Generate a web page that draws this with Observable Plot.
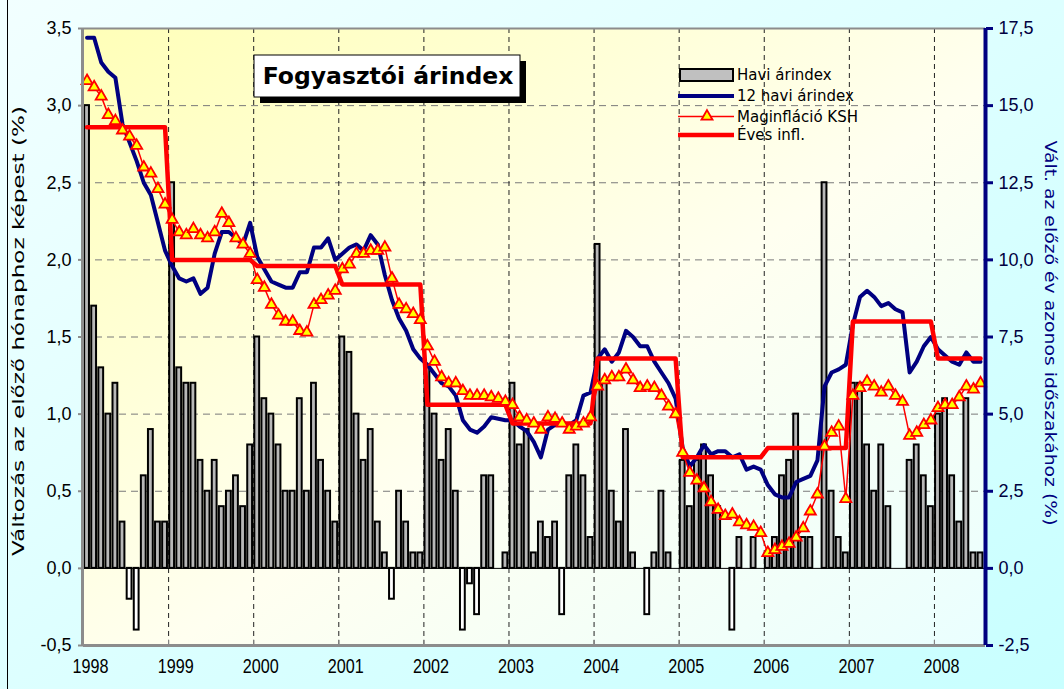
<!DOCTYPE html>
<html><head><meta charset="utf-8">
<script src="https://cdn.jsdelivr.net/npm/d3@7"></script>
<script src="https://cdn.jsdelivr.net/npm/@observablehq/plot@0.6"></script>
<style>
html,body{margin:0;padding:0;background:#d6ffff;}
#chart{width:1064px;height:689px;overflow:hidden;}
</style></head><body><div id="chart"></div>
<script>
// ---- data (monthly, Jan 1998 - Jul 2008) ----
const years = [1998,1999,2000,2001,2002,2003,2004,2005,2006,2007,2008];
// Havi árindex: change vs previous month (%), left axis
const haviArindex = [
  3.0,1.7,1.3,1.0,1.2,0.3,-0.2,-0.4,0.6,0.9,0.3,0.3,
  2.5,1.3,1.2,1.2,0.7,0.5,0.7,0.4,0.5,0.6,0.4,0.8,
  1.5,1.1,1.0,0.8,0.5,0.5,1.1,0.5,1.2,0.7,0.5,0.3,
  1.5,1.4,1.0,0.7,0.9,0.3,0.1,-0.2,0.5,0.3,0.1,0.1,
  1.3,1.0,0.7,0.9,0.5,-0.4,-0.1,-0.3,0.6,0.6,0.0,0.1,
  1.2,0.8,0.9,0.1,0.3,0.2,0.3,-0.3,0.6,0.8,0.6,0.2,
  2.1,1.2,0.5,0.3,0.9,0.1,0.0,-0.3,0.1,0.5,0.1,0.0,
  0.7,0.4,0.7,0.8,0.6,0.4,0.0,-0.4,0.2,0.0,0.2,0.0,
  0.1,0.2,0.6,0.7,1.0,0.2,0.2,0.0,2.5,0.5,0.2,0.1,
  1.2,1.2,0.8,0.5,0.8,0.4,0.0,0.0,0.7,0.8,0.6,0.4,
  1.0,1.1,0.6,0.3,1.1,0.1,0.1
];
// 12 havi árindex (%), right axis
const havi12Arindex = [
  17.2,17.2,16.4,16.1,15.9,14.4,13.8,13.2,12.5,12.1,11.2,10.3,
  9.8,9.4,9.3,9.4,8.9,9.1,10.2,10.9,10.9,10.7,10.5,11.2,
  10.1,9.7,9.3,9.2,9.1,9.1,9.6,9.6,10.4,10.4,10.7,10.0,
  10.2,10.4,10.5,10.3,10.8,10.5,9.5,8.7,8.1,7.7,7.1,6.8,
  6.6,6.3,6.0,5.9,5.6,4.8,4.5,4.4,4.6,4.9,4.85,4.8,
  4.8,4.6,4.45,4.1,3.6,4.5,4.65,4.65,4.65,4.8,5.6,5.7,
  6.8,7.1,6.7,7.0,7.7,7.5,7.2,7.2,6.7,6.35,6.0,5.5,
  3.9,3.3,3.6,4.0,3.7,3.8,3.8,3.6,3.7,3.2,3.3,3.2,
  2.7,2.4,2.3,2.3,2.8,2.9,3.0,3.5,5.9,6.35,6.45,6.6,
  7.9,8.8,9.0,8.8,8.5,8.6,8.4,8.3,6.35,6.7,7.2,7.5,
  7.1,6.9,6.7,6.6,7.0,6.7,6.7
];
// Maginfláció KSH (%), right axis
const maginflacio = [
  15.8,15.6,15.3,14.7,14.5,14.2,14.0,13.7,13.0,12.8,12.3,11.8,
  11.3,10.9,10.8,11.0,10.8,10.7,10.9,11.5,11.2,10.7,10.5,10.2,
  9.35,9.1,8.55,8.2,8.0,8.0,7.7,7.65,8.55,8.7,8.85,9.0,
  9.7,9.85,10.2,10.2,10.3,10.3,10.4,9.4,8.55,8.4,8.25,8.05,
  7.2,6.7,6.2,6.0,6.0,5.75,5.6,5.6,5.6,5.55,5.5,5.4,
  5.3,4.9,4.8,4.7,4.5,4.9,4.85,4.7,4.5,4.6,4.7,4.9,
  5.9,6.1,6.2,6.2,6.45,6.1,5.85,5.9,5.85,5.6,5.25,5.0,
  3.75,3.1,2.85,2.6,2.15,1.9,1.7,1.75,1.5,1.4,1.35,1.15,
  0.5,0.6,0.7,0.8,1.0,1.3,1.85,2.4,3.95,4.4,4.6,2.25,
  5.6,5.85,6.05,5.9,5.7,5.9,5.6,5.4,4.3,4.4,4.65,4.8,
  5.2,5.3,5.3,5.55,5.9,5.8,6.0
];
// Éves infláció (%), one value per year, right axis
const evesInfl = [14.3,10.0,9.8,9.2,5.3,4.7,6.8,3.6,3.9,8.0,6.8];
// axis tick labels
const leftTicks = [-0.5,0,0.5,1.0,1.5,2.0,2.5,3.0,3.5];
const rightTicks = [-2.5,0,2.5,5.0,7.5,10.0,12.5,15.0,17.5];
const RATIO = 5; // right axis = left axis * 5
const leftTitle = "Változás az előző hónaphoz képest (%)";
const rightTitle = "Vált. az előző év azonos időszakához (%)";

// ---- table built from the arrays ----
const months = haviArindex.map((v, i) => ({
  i, havi: v, yoy: havi12Arindex[i], core: maginflacio[i], eves: evesInfl[Math.floor(i / 12)]
}));
const yearStarts = years.map((y, k) => k * 12);
const comma = v => v.toFixed(1).replace(".", ",");

const W = 1064, H = 689;
const tickFont = "'Liberation Sans', Arial, sans-serif";
const chart = Plot.plot({
  width: W, height: H,
  marginLeft: 83, marginRight: 79, marginTop: 28, marginBottom: 44,
  x: {type: "linear", domain: [0, 127.2], axis: null},
  y: {type: "linear", domain: [-0.5, 3.5], axis: null},
  style: {background: "transparent", fontFamily: "'DejaVu Sans', Verdana, sans-serif", fontSize: "14px", color: "#000", overflow: "visible"},
  marks: [
    // grid
    Plot.ruleY(leftTicks.filter(v => v > -0.5 && v < 3.5 && v !== 0), {stroke: "#7a7a7a", strokeDasharray: "7,5", strokeWidth: 1}),
    Plot.ruleX(yearStarts.slice(1), {stroke: "#222", strokeDasharray: "5,4", strokeWidth: 1}),
    // bars
    Plot.rectY(months.filter(d => d.havi !== 0), {
      x1: d => d.i + 0.16, x2: d => d.i + 0.84, y1: 0, y2: "havi",
      fill: d => d.havi < 0 ? "#ffffff" : "#b8b8b8", stroke: "#000", strokeWidth: 2
    }),
    Plot.ruleY([0], {stroke: "#000", strokeWidth: 1}),
    // lines
    Plot.line(months, {x: d => d.i + 0.5, y: d => d.yoy / RATIO, stroke: "#000080", strokeWidth: 4, strokeLinejoin: "round"}),
    Plot.line(months, {x: d => d.i + 0.5, y: d => d.eves / RATIO, stroke: "#ff0000", strokeWidth: 4.5}),
    Plot.line(months, {x: d => d.i + 0.5, y: d => d.core / RATIO, stroke: "#ff0000", strokeWidth: 1.5}),
    Plot.dot(months, {x: d => d.i + 0.5, y: d => d.core / RATIO, symbol: "triangle", r: 4.1, fill: "#ffff00", stroke: "#ff0000", strokeWidth: 1.8}),
    // frame lines
    Plot.ruleY([3.5], {stroke: "#8c8c8c", strokeWidth: 2}),
    Plot.ruleY([-0.5], {stroke: "#8c8c8c", strokeWidth: 3}),
    Plot.ruleX([0], {stroke: "#8c8c8c", strokeWidth: 3, dx: -1}),
    Plot.ruleX([127.2], {stroke: "#000080", strokeWidth: 4}),
    // bottom small ticks at year boundaries
    Plot.ruleX(yearStarts.slice(1), {y1: -0.5, y2: -0.465, stroke: "#8c8c8c", strokeWidth: 1}),
    // left axis
    Plot.axisY({anchor: "left", ticks: leftTicks, tickFormat: comma, tickSize: 5, tickPadding: 7,
      stroke: "#8c8c8c", strokeWidth: 2, fill: "#000", fontSize: 18, fontFamily: tickFont, label: null}),
    // right axis
    Plot.axisY({anchor: "right", ticks: rightTicks.map(v => v / RATIO), tickFormat: v => comma(v * RATIO), tickSize: 7, tickPadding: 6,
      stroke: "#000080", strokeWidth: 3, fill: "#000040", fontSize: 18, fontFamily: tickFont, label: null}),
    // year labels
    Plot.text(years, {x: d => (d - 1998) * 12 + 1.0, frameAnchor: "bottom", dy: 27, text: d => String(d),
      fontSize: 20, fontFamily: tickFont, fill: "#000"}),
    // axis titles
    Plot.text([leftTitle], {frameAnchor: "left", dx: -64, dy: -6, rotate: -90, textAnchor: "middle", fontSize: 15, fill: "#000"}),
    Plot.text([rightTitle], {frameAnchor: "right", dx: 64, dy: -4, rotate: 90, textAnchor: "middle", fontSize: 15, fill: "#000080"})
  ]
});

// ---- text stretching to match the (vertically stretched) original ----
const svg = d3.select(chart);
svg.selectAll("text").filter(function () { return /^\d{4}$/.test(this.textContent); })
  .attr("textLength", 36).attr("lengthAdjust", "spacingAndGlyphs");
svg.selectAll("text").filter(function () { return this.textContent === leftTitle; })
  .attr("textLength", 450).attr("lengthAdjust", "spacingAndGlyphs");
svg.selectAll("text").filter(function () { return this.textContent === rightTitle; })
  .attr("textLength", 385).attr("lengthAdjust", "spacingAndGlyphs");

// ---- backgrounds, title box, legend ----
const defs = svg.insert("defs", ":first-child");
const g1 = defs.append("linearGradient").attr("id", "outerbg").attr("x1", 0).attr("y1", 0).attr("x2", 1).attr("y2", 1);
g1.append("stop").attr("offset", 0).attr("stop-color", "#f2ffff");
g1.append("stop").attr("offset", 1).attr("stop-color", "#c8ffff");
const g2 = defs.append("linearGradient").attr("id", "plotbg").attr("x1", 0).attr("y1", 0).attr("x2", 1).attr("y2", 1);
g2.append("stop").attr("offset", 0).attr("stop-color", "#ffffb8");
g2.append("stop").attr("offset", 0.55).attr("stop-color", "#fffff0");
g2.append("stop").attr("offset", 1).attr("stop-color", "#eaffff");
const bg = svg.insert("g", "defs + *");
bg.append("rect").attr("x", 0).attr("y", 0).attr("width", W).attr("height", H).attr("fill", "url(#outerbg)");
bg.append("line").attr("x1", 7.5).attr("x2", 7.5).attr("y1", 0).attr("y2", H).attr("stroke", "#000").attr("stroke-width", 1);
bg.append("rect").attr("x", 83).attr("y", 28).attr("width", 902).attr("height", 617).attr("fill", "url(#plotbg)");

// title box
const tb = svg.append("g");
tb.append("rect").attr("x", 260).attr("y", 61).attr("width", 266).attr("height", 42).attr("fill", "#000");
tb.append("rect").attr("x", 254).attr("y", 55).attr("width", 266).attr("height", 42).attr("fill", "#fff").attr("stroke", "#000").attr("stroke-width", 1);
tb.append("text").attr("x", 388).attr("y", 76).attr("text-anchor", "middle").attr("dominant-baseline", "central")
  .attr("font-family", "'DejaVu Sans', Verdana, sans-serif").attr("font-weight", "bold").attr("font-size", 23.5).attr("fill", "#000")
  .text("Fogyasztói árindex");

// legend
const lg = svg.append("g").attr("font-family", "'DejaVu Sans', Verdana, sans-serif").attr("font-size", 15).attr("text-anchor", "start");
const lx = 678, tx = 737;
lg.append("rect").attr("x", 680).attr("y", 69).attr("width", 53).attr("height", 12).attr("fill", "#c0c0c0").attr("stroke", "#000").attr("stroke-width", 2);
lg.append("line").attr("x1", lx).attr("x2", 734).attr("y1", 96).attr("y2", 96).attr("stroke", "#000080").attr("stroke-width", 4);
lg.append("line").attr("x1", lx).attr("x2", 734).attr("y1", 116.5).attr("y2", 116.5).attr("stroke", "#ff0000").attr("stroke-width", 1.5);
lg.append("path").attr("d", d3.symbol(d3.symbolTriangle, Math.PI * 4.1 * 4.1)()).attr("transform", "translate(707,116.5)")
  .attr("fill", "#ffff00").attr("stroke", "#ff0000").attr("stroke-width", 1.8);
lg.append("line").attr("x1", lx).attr("x2", 734).attr("y1", 135).attr("y2", 135).attr("stroke", "#ff0000").attr("stroke-width", 4.5);
[["Havi árindex", 75], ["12 havi árindex", 96], ["Maginfláció KSH", 116.5], ["Éves infl.", 135]].forEach(([t, y]) => {
  lg.append("text").attr("x", tx).attr("y", y).attr("text-anchor", "start").attr("dominant-baseline", "central").attr("fill", "#000").text(t);
});

document.getElementById("chart").appendChild(chart);
</script>
</body></html>
